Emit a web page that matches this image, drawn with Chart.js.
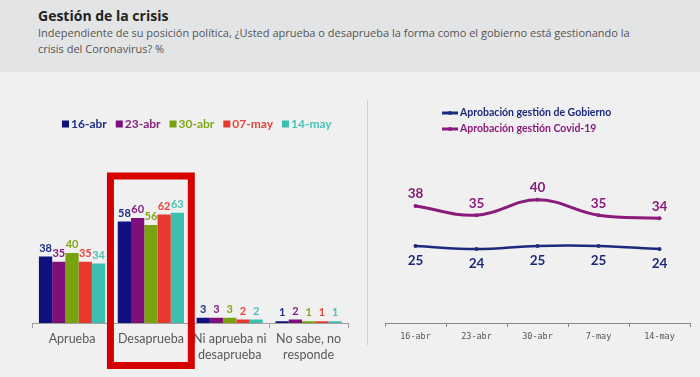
<!DOCTYPE html>
<html>
<head>
<meta charset="utf-8">
<script src="https://cdn.jsdelivr.net/npm/chart.js@4.4.1/dist/chart.umd.min.js"></script>
<style>
  body { margin: 0; width: 700px; height: 377px; background: #f0f0f0; overflow: hidden; position: relative; }
  #head { position: absolute; left: 0; top: 0; width: 700px; height: 72px; background: #e3e4e5; }
  #title { position: absolute; left: 38px; top: 6px; font: bold 14px "Open Sans", sans-serif; color: #222; }
  #sub { position: absolute; left: 38px; top: 25px; width: 650px; font: 11px/16px "Open Sans", sans-serif; color: #555; }
  #left { position: absolute; left: 20px; top: 90px; }
  #right { position: absolute; left: 370px; top: 90px; }
  #divider { position: absolute; left: 367px; top: 100px; width: 1px; height: 245px; background: #cfcfcf; }
</style>
</head>
<body>
<div id="head">
  <div id="title">Gestión de la crisis</div>
  <div id="sub">Independiente de su posición política, ¿Usted aprueba o desaprueba la forma como el gobierno está gestionando la<br>crisis del Coronavirus? %</div>
</div>
<div id="divider"></div>
<canvas id="left" width="345" height="287"></canvas>
<canvas id="right" width="330" height="287"></canvas>
<script>
// left chart data
var categorias = [['Aprueba'], ['Desaprueba'], ['Ni aprueba ni', 'desaprueba'], ['No sabe, no', 'responde']];
var fechas = ['16-abr', '23-abr', '30-abr', '07-may', '14-may'];
var abr16 = [38, 58, 3, 1];
var abr23 = [35, 60, 3, 2];
var abr30 = [40, 56, 3, 1];
var may07 = [35, 62, 2, 1];
var may14 = [34, 63, 2, 1];

// right chart data
var semanas = ['16-abr', '23-abr', '30-abr', '7-may', '14-may'];
var gobierno = [25, 24, 25, 25, 24];
var covid = [38, 35, 40, 35, 34];

var barColors = ['#10107e', '#7f0f7a', '#78a30e', '#e8392f', '#3cbfae'];
var textColors = ['#1f2f88', '#86207f', '#80a91a', '#e5443c', '#4cc2b6'];

// value labels above each bar
var barLabels = {
  id: 'barLabels',
  afterDatasetsDraw: function(chart) {
    var ctx = chart.ctx;
    ctx.save();
    ctx.font = 'bold 11px Lato';
    ctx.textAlign = 'center';
    ctx.textBaseline = 'alphabetic';
    chart.data.datasets.forEach(function(ds, i) {
      chart.getDatasetMeta(i).data.forEach(function(bar, j) {
        ctx.fillStyle = textColors[i];
        ctx.fillText(ds.data[j], bar.x, bar.y - 5);
      });
    });
    ctx.restore();
  }
};

// square legend, left aligned
var barLegend = {
  id: 'barLegend',
  afterDraw: function(chart) {
    var ctx = chart.ctx;
    ctx.save();
    ctx.font = 'bold 12px Lato';
    ctx.textBaseline = 'middle';
    var x = 42, y = 34;
    chart.data.datasets.forEach(function(ds, i) {
      ctx.fillStyle = barColors[i];
      ctx.fillRect(x, y - 3.5, 7, 7);
      ctx.fillStyle = textColors[i];
      ctx.fillText(ds.label, x + 9, y);
      x += 9 + ctx.measureText(ds.label).width + 9;
    });
    ctx.restore();
  }
};

// red frame round "Desaprueba"
var redBox = {
  id: 'redBox',
  afterDraw: function(chart) {
    var xs = chart.scales.x, area = chart.chartArea;
    var cw = xs.width / chart.data.labels.length;
    var cx = xs.getPixelForValue(1);
    var ctx = chart.ctx;
    ctx.save();
    ctx.strokeStyle = '#d60000';
    ctx.lineWidth = 7;
    ctx.strokeRect(cx - cw / 2 - 1, area.top - 7, cw + 2, area.bottom + 42.5 - (area.top - 7));
    ctx.restore();
  }
};

new Chart(document.getElementById('left'), {
  type: 'bar',
  data: {
    labels: categorias,
    datasets: [
      { label: fechas[0], data: abr16, backgroundColor: barColors[0] },
      { label: fechas[1], data: abr23, backgroundColor: barColors[1] },
      { label: fechas[2], data: abr30, backgroundColor: barColors[2] },
      { label: fechas[3], data: may07, backgroundColor: barColors[3] },
      { label: fechas[4], data: may14, backgroundColor: barColors[4] }
    ]
  },
  options: {
    responsive: false,
    animation: false,
    categoryPercentage: 0.84,
    barPercentage: 1.0,
    layout: { padding: { left: 12.6, right: 17, top: 93, bottom: 0 } },
    plugins: { legend: { display: false }, tooltip: { enabled: false } },
    scales: {
      x: {
        grid: { drawOnChartArea: false, tickLength: 5, color: '#a0a0a0', offset: true },
        border: { color: '#a0a0a0' },
        ticks: { font: { family: 'Lato', size: 12.5, lineHeight: 1.3 }, color: '#595959', maxRotation: 0, autoSkip: false, padding: 3 },
        afterFit: function(s) { s.height = 54; }
      },
      y: { display: false, min: 0, max: 80 }
    }
  },
  plugins: [barLabels, barLegend, redBox]
});

// value labels on the lines
var lineLabels = {
  id: 'lineLabels',
  afterDatasetsDraw: function(chart) {
    var ctx = chart.ctx;
    ctx.save();
    ctx.font = 'bold 13.5px Lato';
    ctx.textAlign = 'center';
    ctx.textBaseline = 'middle';
    chart.data.datasets.forEach(function(ds, i) {
      chart.getDatasetMeta(i).data.forEach(function(pt, j) {
        ctx.fillStyle = ds.borderColor;
        ctx.fillText(ds.data[j], pt.x, ds.below ? pt.y + 15 : pt.y - 12);
      });
    });
    ctx.restore();
  }
};

var lineLegend = {
  id: 'lineLegend',
  afterDraw: function(chart) {
    var ctx = chart.ctx;
    ctx.save();
    ctx.font = 'bold 10.5px Lato';
    ctx.textBaseline = 'middle';
    var x = 72, y = 23;
    chart.data.datasets.forEach(function(ds) {
      ctx.strokeStyle = ds.borderColor;
      ctx.fillStyle = ds.borderColor;
      ctx.lineWidth = 3;
      ctx.beginPath();
      ctx.moveTo(x, y);
      ctx.lineTo(x + 16, y);
      ctx.stroke();
      ctx.beginPath();
      ctx.arc(x + 8, y, 2, 0, Math.PI * 2);
      ctx.fill();
      ctx.fillText(ds.label, x + 18, y);
      y += 16;
    });
    ctx.restore();
  }
};

new Chart(document.getElementById('right'), {
  type: 'line',
  data: {
    labels: semanas,
    datasets: [
      { label: 'Aprobación gestión de Gobierno', data: gobierno, borderColor: '#1c2a7c', backgroundColor: '#1c2a7c',
        borderWidth: 2.5, pointRadius: 2, pointBorderWidth: 0, tension: 0.4, below: true },
      { label: 'Aprobación gestión Covid-19', data: covid, borderColor: '#8a1b7c', backgroundColor: '#8a1b7c',
        borderWidth: 3, pointRadius: 2, pointBorderWidth: 0, tension: 0.4 }
    ]
  },
  options: {
    responsive: false,
    animation: false,
    layout: { padding: { left: 15, right: 10, top: 79, bottom: 0 } },
    plugins: { legend: { display: false }, tooltip: { enabled: false } },
    scales: {
      x: {
        offset: true,
        grid: { drawOnChartArea: false, tickLength: 4, color: '#8a8a8a', offset: true },
        border: { color: '#8a8a8a' },
        ticks: { font: { family: 'DejaVu Sans Mono', size: 8.5 }, color: '#555', maxRotation: 0, padding: 5 },
        afterFit: function(s) { s.height = 54; }
      },
      y: { display: false, min: 0, max: 50 }
    }
  },
  plugins: [lineLabels, lineLegend]
});
</script>
</body>
</html>
